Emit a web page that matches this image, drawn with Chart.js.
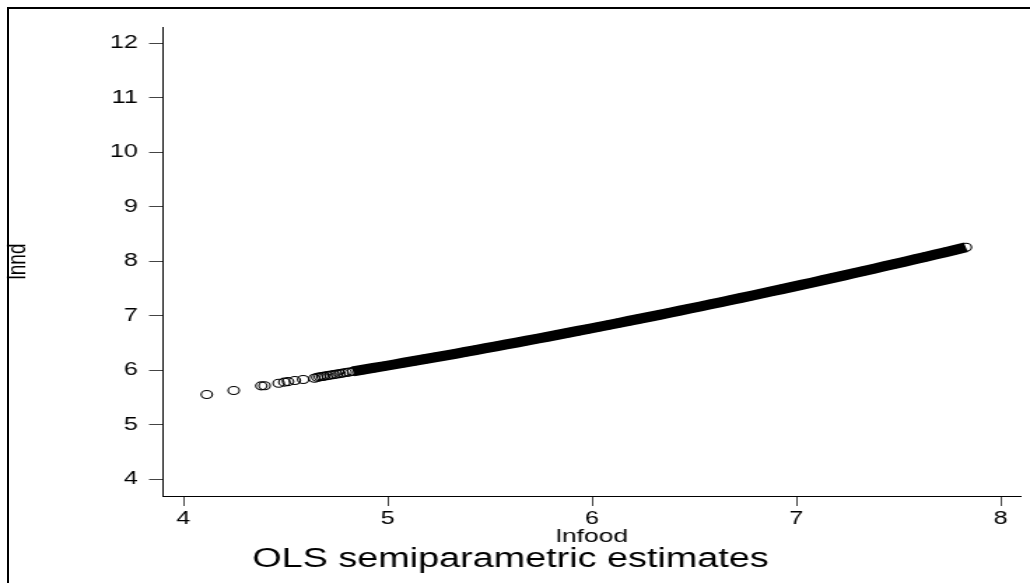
<!DOCTYPE html>
<html>
<head>
<meta charset="utf-8">
<script src="https://cdn.jsdelivr.net/npm/chart.js@4.4.1/dist/chart.umd.min.js"></script>
<style>
  html, body { margin: 0; padding: 0; background: #fff; overflow: hidden; width: 1030px; height: 583px; }
  #frame { position: absolute; left: 7px; top: 7px; width: 1100px; height: 700px; border: 2px solid #000; box-sizing: border-box; z-index: 2; pointer-events: none; }
  #c { position: absolute; left: 0; top: 0; width: 1030px; height: 583px; }
</style>
</head>
<body>
<div id="frame"></div>
<canvas id="c" width="736" height="583" style="width:1030px;height:583px;"></canvas>
<script>
// ---- data ----
const sparseX = [4.114, 4.246, 4.381, 4.397, 4.466, 4.494, 4.512, 4.545, 4.586, 4.641,
                 4.655, 4.668, 4.680, 4.690, 4.705, 4.720, 4.735, 4.750, 4.765, 4.780, 4.795, 4.810];
const sparseY = [5.552, 5.626, 5.712, 5.714, 5.761, 5.780, 5.790, 5.810, 5.828, 5.853,
                 5.869, 5.877, 5.885, 5.891, 5.900, 5.909, 5.918, 5.927, 5.937, 5.946, 5.956, 5.965];

const denseX = [4.83, 4.88, 4.93, 4.98, 5.03, 5.08, 5.13, 5.18, 5.23, 5.28, 5.33, 5.38, 5.43, 5.48,
                5.53, 5.58, 5.63, 5.68, 5.73, 5.78, 5.83, 5.88, 5.93, 5.98, 6.03, 6.08, 6.13, 6.18,
                6.23, 6.28, 6.33, 6.38, 6.43, 6.48, 6.53, 6.58, 6.63, 6.68, 6.73, 6.78, 6.83, 6.88,
                6.93, 6.98, 7.03, 7.08, 7.13, 7.18, 7.23, 7.28, 7.33, 7.38, 7.43, 7.48, 7.53, 7.58,
                7.63, 7.68, 7.73, 7.78, 7.83];
const denseY = [5.977, 6.009, 6.040, 6.072, 6.104, 6.137, 6.169, 6.202, 6.235, 6.268, 6.301, 6.335, 6.369, 6.403,
                6.437, 6.472, 6.507, 6.542, 6.577, 6.612, 6.648, 6.684, 6.720, 6.756, 6.793, 6.829, 6.866, 6.904,
                6.941, 6.979, 7.016, 7.055, 7.093, 7.131, 7.170, 7.209, 7.248, 7.288, 7.327, 7.367, 7.407, 7.448,
                7.488, 7.529, 7.570, 7.611, 7.653, 7.694, 7.736, 7.778, 7.821, 7.863, 7.906, 7.949, 7.992, 8.036,
                8.079, 8.123, 8.167, 8.212, 8.256];

const xTicks = [4, 5, 6, 7, 8];
const yTicks = [4, 5, 6, 7, 8, 9, 10, 11, 12];

const xTitle = 'lnfood';
const yTitle = 'lnnd';
const mainTitle = 'OLS semiparametric estimates';

// ---- chart ----
const FONT = "'Liberation Sans', Arial, Helvetica, sans-serif";
const toPts = (xs, ys) => xs.map((x, i) => ({ x: x, y: ys[i] }));

const pointStyle = {
  pointRadius: 4,
  pointBorderWidth: 1.1,
  pointBorderColor: '#000',
  pointBackgroundColor: 'rgba(0,0,0,0)',
  pointHoverRadius: 4
};

new Chart(document.getElementById('c'), {
  type: 'scatter',
  data: {
    datasets: [
      Object.assign({
        label: 'sparse',
        data: toPts(sparseX, sparseY),
        showLine: false
      }, pointStyle),
      Object.assign({
        label: 'dense',
        data: toPts(denseX, denseY),
        showLine: true,
        borderColor: '#000',
        borderWidth: 10,
        borderCapStyle: 'butt',
        tension: 0,
        fill: false
      }, pointStyle)
    ]
  },
  options: {
    responsive: false,
    animation: false,
    devicePixelRatio: 1,
    layout: { padding: { left: 0, right: 6.4, top: 27, bottom: 0 } },
    plugins: {
      legend: { display: false },
      tooltip: { enabled: false },
      title: {
        display: true,
        position: 'bottom',
        text: mainTitle,
        color: '#000',
        font: { family: FONT, size: 27, weight: 'normal', lineHeight: 0.9 },
        padding: { top: 0.5, bottom: 11.7 }
      }
    },
    scales: {
      x: {
        type: 'linear',
        min: 3.9,
        max: 8.1,
        afterBuildTicks: (s) => { s.ticks = xTicks.map(v => ({ value: v })); },
        afterFit: (s) => { s.height = 50.5; },
        grid: { display: true, drawOnChartArea: false, drawTicks: true, tickLength: 10, color: '#444', lineWidth: 1 },
        border: { display: true, color: '#000', width: 1 },
        ticks: { color: '#000', font: { family: FONT, size: 18 }, padding: 2, autoSkip: false, maxRotation: 0 },
        title: { display: true, text: xTitle, color: '#000', font: { family: FONT, size: 19, lineHeight: 1 }, padding: 0 }
      },
      y: {
        type: 'linear',
        min: 3.69,
        max: 12.3,
        afterBuildTicks: (s) => { s.ticks = yTicks.map(v => ({ value: v })); },
        afterFit: (s) => { s.width = 116.5; },
        grid: { display: true, drawOnChartArea: false, drawTicks: true, tickLength: 10, color: '#444', lineWidth: 1 },
        border: { display: true, color: '#000', width: 1 },
        ticks: { color: '#000', font: { family: FONT, size: 18 }, padding: 8, autoSkip: false },
        title: { display: true, text: yTitle, color: '#000', font: { family: FONT, size: 19, lineHeight: 1 }, padding: { top: 3, bottom: 0 } }
      }
    }
  }
});
</script>
</body>
</html>
